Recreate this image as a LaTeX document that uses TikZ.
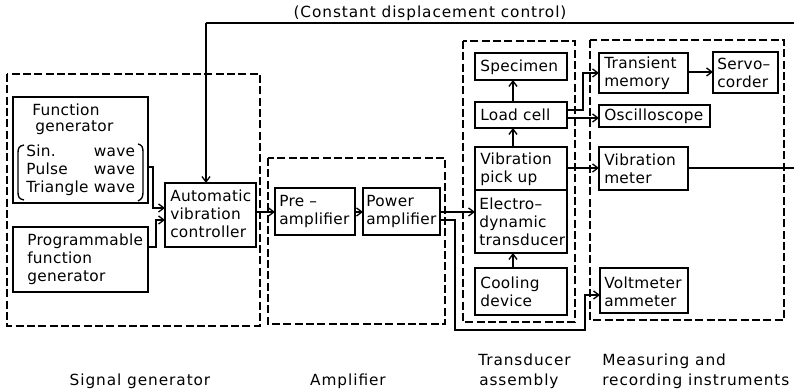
\documentclass[tikz,border=0pt]{standalone}
\usepackage{fontspec}
\setmainfont{DejaVu Sans}[LetterSpace=2]
\newfontfamily\spacedfont{DejaVu Sans}[LetterSpace=6]
\usetikzlibrary{arrows.meta,fit}
\begin{document}
\begin{tikzpicture}[x=0.75pt,y=-0.75pt,
  font=\fontsize{11.5}{13.5}\selectfont,
  box/.style={draw,line width=1.4pt,rectangle,inner sep=0pt,outer sep=0pt},
  grp/.style={draw,line width=1pt,dash pattern=on 6pt off 2.5pt},
  lbl/.style={inner sep=0pt,anchor=west,align=left},
  captxt/.style={inner sep=0pt,align=left,font=\spacedfont\fontsize{11.5}{13.5}\selectfont},
  conn/.style={line width=1pt},
  arr/.style={conn,-{Straight Barb[length=4pt,width=6pt]}},
]
\useasboundingbox (0,0) rectangle (794,391);

% groups
\draw[grp] (7,74) rectangle (260,326);
\draw[grp] (268,158) rectangle (445,324);
\draw[grp] (463,41) rectangle (575,322);
\draw[grp] (590,40) rectangle (784,320);

% boxes
\node[box,fit={(13,97) (148,203)}] (fg) {};
\node[box,fit={(13,227) (148,292)}] (pfg) {};
\node[box,fit={(165,183) (256,247)}] (avc) {};
\node[box,fit={(275,188) (355,235)}] (pre) {};
\node[box,fit={(363,188) (440,235)}] (pow) {};
\node[box,fit={(475,53) (567,80)}] (spec) {};
\node[box,fit={(475,102) (567,128)}] (load) {};
\node[box,fit={(475,147) (567,190)}] (vpu) {};
\node[box,fit={(475,190) (567,253)}] (edt) {};
\node[box,fit={(475,268) (567,315)}] (cool) {};
\node[box,fit={(599,53) (688,93)}] (tm) {};
\node[box,fit={(713,52) (778,93)}] (sc) {};
\node[box,fit={(599,105) (710,127)}] (osc) {};
\node[box,fit={(599,147) (688,190)}] (vm) {};
\node[box,fit={(600,268) (688,313)}] (va) {};

% texts
\node[lbl] (t1) at (32,110) {Function};
\node[lbl] (t2) at (35,128) {generator};
\node[lbl] (t3) at (26,171) {\begin{tabular}{@{}l@{\ }r@{}}Sin. & wave\\ Pulse & wave\\ Triangle & wave\end{tabular}};
\draw[conn] (24,145) .. controls (19,146) and (18,148) .. (18,153) -- (18,192) .. controls (18,197) and (19,199) .. (24,200);
\draw[conn] (138,144) .. controls (142,145) and (143,147) .. (143,152) -- (143,192) .. controls (143,197) and (142,199) .. (138,201);
\node[lbl] (t4) at (27,259) {Programmable\\function\\generator};
\node[lbl] (t5) at (170,214) {Automatic\\vibration\\controller};
\node[lbl] (t6) at (279,212) {Pre –\\amplifier};
\node[lbl] (t7) at (366,212) {Power\\amplifier};
\node[lbl] (t8) at (480,67) {Specimen};
\node[lbl] (t9) at (480,115) {Load cell};
\node[lbl] (t10) at (480,169) {Vibration\\pick up};
\node[lbl] (t11) at (479,222) {Electro–\\dynamic\\transducer};
\node[lbl] (t12) at (480,292) {Cooling\\device};
\node[lbl] (t13) at (604,73) {Transient\\memory};
\node[lbl] (t14) at (717,73) {Servo–\\corder};
\node[lbl] (t15) at (604,116) {Oscilloscope};
\node[lbl] (t16) at (604,169) {Vibration\\meter};
\node[lbl] (t17) at (604,292) {Voltmeter\\ammeter};

% feedback
\coordinate (fbR) at (794,23);
\coordinate (fbL) at (206,23);
\coordinate (vmR) at (794,168);
\node[captxt,anchor=south] (fbt) at (430,21) {(Constant displacement control)};
\draw[conn] (fbR) -- (fbL);
\draw[arr] (fbL) -- (fbL |- avc.north);
\draw[conn] (vm.east |- vmR) -- (vmR);

% connectors
\draw[arr] (fg.east |- 0,167) -- (153,167) -- (153,208) -- (avc.west |- 0,208);
\draw[arr] (pfg.east |- 0,247) -- (156,247) -- (156,220) -- (avc.west |- 0,220);
\draw[arr] (avc.east |- 0,212) -- (pre.west |- 0,212);
\draw[arr] (pre.east |- 0,212) -- (pow.west |- 0,212);
\draw[arr] (pow.east |- 0,212) -- (edt.west |- 0,212);
\draw[arr] (pow.east |- 0,220) -- (455,220) -- (455,330) -- (585,330) -- (585,295) -- (va.west |- 0,295);
\draw[arr] (load.north -| 513,0) -- (spec.south -| 513,0);
\draw[arr] (vpu.north -| 513,0) -- (load.south -| 513,0);
\draw[arr] (cool.north -| 513,0) -- (edt.south -| 513,0);
\draw[arr] (load.east |- 0,110) -- (583,110) -- (583,73) -- (tm.west |- 0,73);
\draw[arr] (load.east |- 0,118) -- (osc.west |- 0,118);
\draw[arr] (vpu.east |- 0,168) -- (vm.west |- 0,168);
\draw[arr] (tm.east |- 0,72) -- (sc.west |- 0,72);

% captions
\node[captxt,anchor=base] (c1) at (140,386) {Signal generator};
\node[captxt,anchor=base] (c2) at (348,386) {Amplifier};
\node[captxt,anchor=base west] (c3) at (478,366) {Transducer};
\node[captxt,anchor=base west] (c4) at (479,386) {assembly};
\node[captxt,anchor=base west] (c5) at (602,366) {Measuring and};
\node[captxt,anchor=base west] (c6) at (602,386) {recording instruments};
\end{tikzpicture}
\end{document}
